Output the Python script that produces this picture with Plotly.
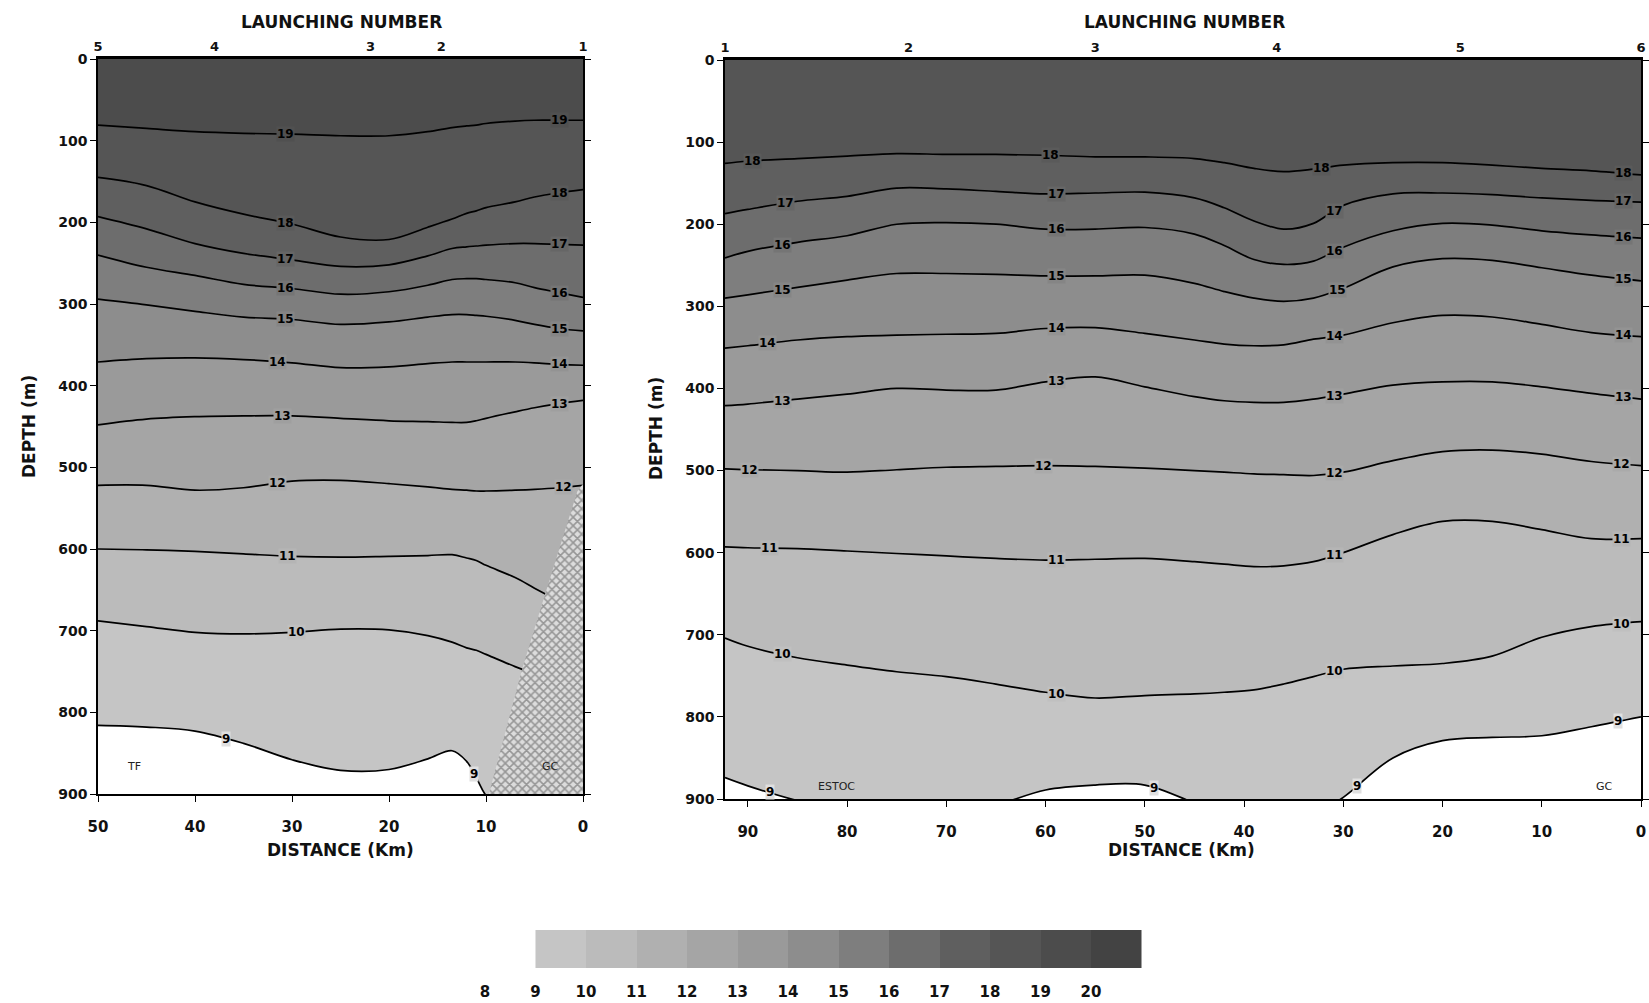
import numpy as np
import plotly.graph_objects as go

# ---------------- Section TF -> GC (left panel) ----------------
# Distance of each reading column (km) and depth (m) of every isotherm there
tf_km = [50, 45, 40, 35, 30, 25, 20, 16, 13.5, 12, 11, 10, 7, 5, 2.5, 0]
tf_t19 = [81, 85, 89, 91, 92, 94, 94, 89, 84, 82, 81, 79, 76, 75, 75, 75]
tf_t18 = [145, 155, 175, 190, 202, 218, 221, 206, 196, 189, 186, 182, 175, 169, 164, 160]
tf_t17 = [193, 208, 226, 238, 246, 254, 252, 241, 232, 230, 229, 228, 226, 226, 227, 228]
tf_t16 = [240, 255, 265, 276, 281, 288, 285, 277, 270, 269, 269, 270, 274, 280, 286, 292]
tf_t15 = [294, 301, 309, 316, 319, 325, 322, 316, 313, 313, 314, 315, 320, 325, 330, 333]
tf_t14 = [371, 367, 366, 368, 372, 378, 377, 373, 371, 371, 371, 371, 371, 372, 374, 375]
tf_t13 = [448, 441, 438, 437, 437, 440, 443, 444, 445, 445, 443, 440, 432, 427, 422, 418]
tf_t12 = [522, 522, 528, 525, 517, 516, 520, 524, 527, 528, 529, 529, 528, 527, 525, 522]
tf_t11 = [600, 601, 603, 606, 609, 610, 609, 608, 607, 611, 614, 620, 635, 648, 664, 680]
tf_t10 = [688, 695, 702, 704, 702, 698, 699, 706, 714, 721, 724, 729, 744, 753, 765, 775]
tf_t9 = [816, 818, 823, 838, 858, 871, 870, 857, 847, 860, 880, 902, 940, 950, 960, 970]
tf_levels = [19, 18, 17, 16, 15, 14, 13, 12, 11, 10, 9]
tf_launch_km = [50, 38.0, 21.9, 14.6, 0]
tf_launch_labels = ["5", "4", "3", "2", "1"]

# Island slope outline near GC (km, m)
slope_km = [0, 0.6, 3.9, 6.3, 9.7, 0]
slope_depth = [520, 530, 655, 748, 900, 900]

# ---------------- Section ESTOC -> GC (right panel) ----------------
es_km = [92.3, 90, 85, 80, 75, 70, 65, 60, 55, 50, 45, 42, 39, 36, 33, 30, 25, 20, 15, 10, 5, 0]
es_t18 = [126, 123, 120, 117, 114, 115, 115, 116, 118, 118, 120, 125, 132, 136, 133, 128, 125, 125, 128, 132, 135, 140]
es_t17 = [187, 182, 172, 166, 156, 157, 160, 163, 162, 161, 168, 180, 196, 206, 199, 177, 163, 162, 164, 168, 171, 173]
es_t16 = [241, 233, 222, 214, 200, 198, 200, 206, 206, 204, 212, 226, 243, 249, 245, 228, 208, 199, 201, 208, 213, 217]
es_t15 = [290, 286, 277, 268, 260, 260, 261, 263, 263, 262, 272, 282, 290, 294, 290, 278, 252, 242, 244, 253, 262, 269]
es_t14 = [351, 348, 341, 337, 335, 334, 333, 327, 326, 333, 341, 346, 348, 347, 340, 335, 320, 311, 313, 322, 332, 337]
es_t13 = [421, 419, 413, 407, 400, 402, 402, 392, 386, 398, 410, 415, 417, 417, 413, 407, 396, 392, 392, 398, 406, 413]
es_t12 = [498, 499, 500, 502, 499, 496, 495, 494, 495, 497, 500, 502, 504, 505, 506, 502, 488, 477, 475, 480, 489, 494]
es_t11 = [593, 594, 595, 598, 601, 604, 607, 609, 608, 607, 611, 614, 617, 616, 611, 600, 578, 562, 562, 572, 583, 583]
es_t10 = [704, 714, 728, 737, 745, 751, 760, 770, 777, 774, 772, 770, 767, 760, 751, 742, 738, 735, 726, 703, 690, 684]
es_t9 = [874, 884, 902, 915, 925, 925, 908, 889, 883, 883, 905, 920, 930, 930, 920, 898, 850, 829, 825, 823, 812, 800]
es_levels = [18, 17, 16, 15, 14, 13, 12, 11, 10, 9]
es_launch_km = [92.3, 73.8, 55.0, 36.7, 18.2, 0]
es_launch_labels = ["1", "2", "3", "4", "5", "6"]

# Temperature scale
scale_ticks = [8, 9, 10, 11, 12, 13, 14, 15, 16, 17, 18, 19, 20]
scale_cells = [9.5, 10.5, 11.5, 12.5, 13.5, 14.5, 15.5, 16.5, 17.5, 18.5, 19.5, 20.5]

# grey for each 1-degree band, starting at 8 degC
band_colors = ["#fbfbfb", "#c5c5c5", "#bbbbbb", "#b0b0b0", "#a5a5a5", "#9a9a9a",
               "#8d8d8d", "#7e7e7e", "#6d6d6d", "#5f5f5f", "#555555", "#4c4c4c", "#434343"]
T_MIN, T_MAX = 8, 21

colorscale = []
n_band = len(band_colors)
for k, c in enumerate(band_colors):
    colorscale.append([k / n_band, c])
    colorscale.append([(k + 1) / n_band, c])


def band(level):
    return band_colors[int(level) - T_MIN]


def mix(c1, c2):
    a = [int(c1[i:i + 2], 16) for i in (1, 3, 5)]
    b = [int(c2[i:i + 2], 16) for i in (1, 3, 5)]
    return "#" + "".join(f"{(u + v) // 2:02x}" for u, v in zip(a, b))


FONT = "DejaVu Sans"
fig = go.Figure()
label_annotations = []


def add_section(km, isotherms, levels, label_km, xa, ya, xref, yref):
    # sea surface as the upper edge of the warmest band
    fig.add_trace(go.Scatter(x=km, y=np.zeros(len(km)), xaxis=xa, yaxis=ya, mode="lines",
                             line=dict(width=0), hoverinfo="skip", showlegend=False))
    for lev, depths in zip(levels, isotherms):
        fig.add_trace(go.Scatter(
            x=km, y=depths, xaxis=xa, yaxis=ya, mode="lines",
            line=dict(color="black", width=1.7, shape="spline", smoothing=1),
            fill="tonexty", fillcolor=band(lev), hoverinfo="skip", showlegend=False))
        # isotherm labels sit on the line
        xs = km[::-1]
        ys = list(depths)[::-1]
        for lk in label_km.get(lev, []):
            label_annotations.append(dict(
                text=str(lev), x=lk, y=float(np.interp(lk, xs, ys)), xref=xref, yref=yref,
                showarrow=False, xanchor="center", yanchor="middle",
                bgcolor=mix(band(lev), band(lev - 1)), borderpad=0,
                font=dict(family=FONT, size=12, color="black", weight="bold")))


tf_label_km = {19: [30.7, 2.4], 18: [30.7, 2.4], 17: [30.7, 2.4], 16: [30.7, 2.4],
               15: [30.7, 2.4], 14: [31.5, 2.4], 13: [31.0, 2.4], 12: [31.5, 2.0],
               11: [30.5], 10: [29.5], 9: [36.8, 11.2]}
es_label_km = {18: [89.5, 59.5, 32.2, 1.8], 17: [86.2, 58.9, 30.9, 1.8],
               16: [86.5, 58.9, 30.9, 1.8], 15: [86.5, 58.9, 30.6, 1.8],
               14: [88.0, 58.9, 30.9, 1.8], 13: [86.5, 58.9, 30.9, 1.8],
               12: [89.8, 60.2, 30.9, 2.0], 11: [87.8, 58.9, 30.9, 2.0],
               10: [86.5, 58.9, 30.9, 2.0], 9: [87.8, 49.1, 28.6, 2.3]}

add_section(tf_km, [tf_t19, tf_t18, tf_t17, tf_t16, tf_t15, tf_t14, tf_t13,
                    tf_t12, tf_t11, tf_t10, tf_t9], tf_levels, tf_label_km, "x", "y", "x", "y")

# cross-hatched island slope
fig.add_trace(go.Scatter(
    x=slope_km, y=slope_depth, xaxis="x", yaxis="y", mode="lines",
    fill="toself", line=dict(width=0, color="rgba(0,0,0,0)"),
    fillpattern=dict(shape="x", fgcolor="#4f4f4f", bgcolor="#dcdcdc", size=6, solidity=0.45),
    hoverinfo="skip", showlegend=False))

add_section(es_km, [es_t18, es_t17, es_t16, es_t15, es_t14, es_t13, es_t12,
                    es_t11, es_t10, es_t9], es_levels, es_label_km, "x2", "y2", "x2", "y2")

# carriers for the launching-number axes
fig.add_trace(go.Scatter(x=tf_launch_km, y=[0] * len(tf_launch_km), xaxis="x3", yaxis="y",
                         mode="markers", marker=dict(opacity=0), hoverinfo="skip", showlegend=False))
fig.add_trace(go.Scatter(x=es_launch_km, y=[0] * len(es_launch_km), xaxis="x4", yaxis="y2",
                         mode="markers", marker=dict(opacity=0), hoverinfo="skip", showlegend=False))

# temperature scale bar
fig.add_trace(go.Heatmap(x=scale_cells, y=[0], z=[scale_cells], xaxis="x5", yaxis="y3",
                         zmin=T_MIN, zmax=T_MAX, colorscale=colorscale, showscale=False,
                         hoverinfo="skip"))

W, H = 1649, 1003


def px_x(p):
    return p / W


def px_y(p):
    return 1 - p / H


tick_font = dict(family=FONT, size=14, color="#111", weight="bold")
xtick_font = dict(family=FONT, size=15, color="#111", weight="bold")
top_font = dict(family=FONT, size=13, color="#111", weight="bold")
base = dict(showline=True, linecolor="black", linewidth=1.5, showgrid=False,
            zeroline=False, automargin=False, tickcolor="black", tickwidth=1.2)

fig.update_layout(
    width=W, height=H, margin=dict(l=0, r=0, t=0, b=0),
    paper_bgcolor="white", plot_bgcolor="white", showlegend=False,
    xaxis=dict(base, domain=[px_x(98), px_x(583)], anchor="y", range=[50, 0],
               tickmode="array", tickvals=[50, 40, 30, 20, 10, 0], ticks="outside",
               ticklen=6, tickfont=xtick_font, ticklabelstandoff=12),
    yaxis=dict(base, domain=[px_y(794), px_y(59)], anchor="x", range=[900, 0],
               tickmode="array", tickvals=list(range(0, 901, 100)), ticks="outside",
               ticklen=6, mirror="ticks", tickfont=tick_font),
    xaxis3=dict(base, overlaying="x", side="top", anchor="y", range=[50, 0],
                tickmode="array", tickvals=tf_launch_km, ticktext=tf_launch_labels,
                ticks="", linewidth=2.5, tickfont=top_font),
    xaxis2=dict(base, domain=[px_x(725), px_x(1641)], anchor="y2", range=[92.3, 0],
                tickmode="array", tickvals=[90, 80, 70, 60, 50, 40, 30, 20, 10, 0],
                ticks="outside", ticklen=6, tickfont=xtick_font, ticklabelstandoff=12),
    yaxis2=dict(base, domain=[px_y(799), px_y(60)], anchor="x2", range=[900, 0],
                tickmode="array", tickvals=list(range(0, 901, 100)), ticks="outside",
                ticklen=6, mirror="ticks", tickfont=tick_font),
    xaxis4=dict(base, overlaying="x2", side="top", anchor="y2", range=[92.3, 0],
                tickmode="array", tickvals=es_launch_km, ticktext=es_launch_labels,
                ticks="", linewidth=2.5, tickfont=top_font),
    xaxis5=dict(domain=[px_x(485), px_x(1144)], anchor="y3", range=[8, 21.05],
                showline=False, showgrid=False, zeroline=False, automargin=False,
                tickmode="array", tickvals=scale_ticks, ticks="",
                ticklabelstandoff=13,
                tickfont=dict(family=FONT, size=15, color="#111", weight="bold")),
    yaxis3=dict(domain=[px_y(968), px_y(930)], anchor="x5", range=[-0.5, 0.5],
                visible=False),
)

title_font = dict(family=FONT, size=17, color="#111", weight="bold")
small_font = dict(family=FONT, size=11, color="#222")


def paper_text(text, x, y, angle=0):
    return dict(text=text, x=px_x(x), y=px_y(y), xref="paper", yref="paper",
                xanchor="center", yanchor="middle", showarrow=False,
                textangle=angle, font=title_font)


annotations = [
    paper_text("LAUNCHING NUMBER", 341, 22),
    paper_text("LAUNCHING NUMBER", 1184, 22),
    paper_text("DISTANCE (Km)", 340, 850),
    paper_text("DISTANCE (Km)", 1181, 850),
    paper_text("DEPTH (m)", 29, 427, -90),
    paper_text("DEPTH (m)", 656, 429, -90),
    dict(text="TF", x=46.3, y=866, xref="x", yref="y", showarrow=False, font=small_font),
    dict(text="GC", x=3.4, y=866, xref="x", yref="y", showarrow=False, font=small_font),
    dict(text="ESTOC", x=81.1, y=885, xref="x2", yref="y2", showarrow=False, font=small_font),
    dict(text="GC", x=3.7, y=885, xref="x2", yref="y2", showarrow=False, font=small_font),
]
fig.update_layout(annotations=annotations + label_annotations)

fig.write_html("out.html")
